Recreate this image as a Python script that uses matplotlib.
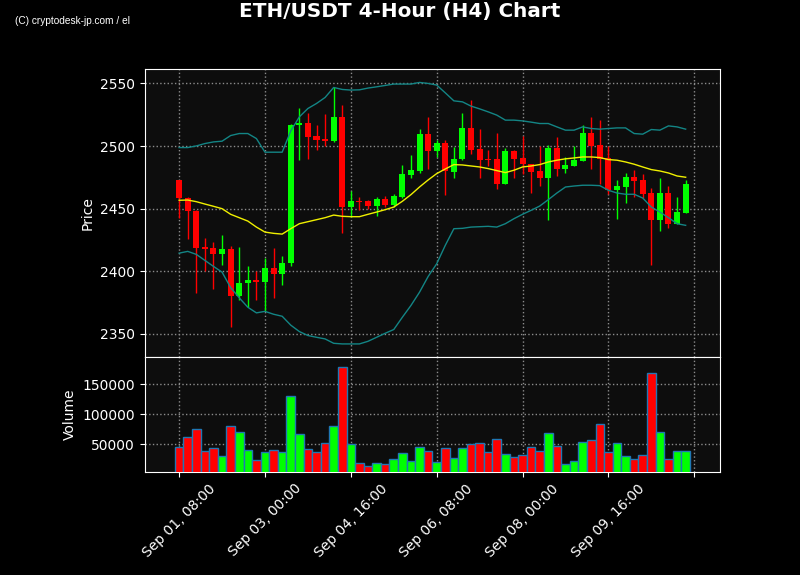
import matplotlib
matplotlib.use('Agg')
import matplotlib.pyplot as plt
from matplotlib.ticker import FuncFormatter
import pandas as pd

# 4-hour candles, ETH/USDT
dates = pd.date_range('2024-09-01 08:00', periods=60, freq='4h')

opens = [2472.7, 2458.5, 2448.1, 2419.0, 2418.3, 2413.7, 2417.5, 2380.6, 2390.5, 2393.0,
         2391.4, 2403.0, 2397.7, 2407.0, 2516.5, 2518.3, 2507.9, 2505.5, 2503.9, 2523.0,
         2451.3, 2455.9, 2455.9, 2451.9, 2457.5, 2452.7, 2459.3, 2476.7, 2479.9, 2509.5,
         2496.1, 2502.3, 2479.4, 2489.5, 2514.3, 2497.5, 2489.7, 2489.5, 2469.7, 2495.9,
         2490.3, 2486.0, 2479.9, 2474.5, 2498.3, 2481.5, 2483.9, 2488.1, 2510.3, 2500.6,
         2490.3, 2464.7, 2467.2, 2475.1, 2472.7, 2462.3, 2440.7, 2462.3, 2438.0, 2446.6]
highs = [2472.7, 2459.1, 2448.7, 2426.8, 2423.3, 2428.7, 2420.4, 2419.6, 2404.4, 2400.0,
         2410.8, 2418.8, 2412.4, 2517.5, 2530.0, 2526.0, 2517.2, 2525.5, 2546.8, 2532.4,
         2463.9, 2459.0, 2456.7, 2459.3, 2459.9, 2462.0, 2485.2, 2493.2, 2514.0, 2523.3,
         2504.7, 2504.7, 2499.4, 2526.0, 2536.4, 2514.0, 2497.2, 2510.8, 2498.8, 2497.2,
         2508.1, 2486.0, 2499.9, 2501.2, 2507.3, 2491.3, 2499.9, 2517.2, 2522.9, 2521.2,
         2499.9, 2472.7, 2478.8, 2480.7, 2477.7, 2466.8, 2474.8, 2468.4, 2459.6, 2472.7]
lows = [2442.8, 2426.0, 2382.8, 2399.9, 2385.7, 2405.2, 2355.3, 2376.7, 2371.3, 2377.2,
        2368.0, 2378.8, 2389.2, 2404.6, 2488.7, 2490.0, 2496.7, 2499.9, 2503.0, 2430.8,
        2443.3, 2448.7, 2450.0, 2444.4, 2451.3, 2451.3, 2458.8, 2474.8, 2478.8, 2482.0,
        2491.3, 2460.7, 2474.8, 2488.7, 2494.0, 2474.8, 2483.9, 2466.0, 2469.7, 2474.8,
        2478.0, 2462.8, 2468.4, 2441.2, 2476.4, 2478.5, 2483.9, 2488.1, 2482.0, 2470.0,
        2462.0, 2441.7, 2454.5, 2459.7, 2458.8, 2405.2, 2432.1, 2434.8, 2438.0, 2446.6]
closes = [2458.5, 2448.1, 2418.5, 2417.5, 2413.7, 2417.5, 2380.6, 2391.0, 2393.0, 2391.4,
          2403.0, 2397.7, 2407.0, 2516.7, 2518.3, 2507.3, 2504.7, 2503.9, 2523.0, 2451.3,
          2455.9, 2455.0, 2451.9, 2457.5, 2452.7, 2459.9, 2477.5, 2480.7, 2509.5, 2496.1,
          2502.3, 2479.9, 2490.0, 2514.3, 2496.7, 2488.7, 2488.7, 2469.7, 2495.9, 2489.5,
          2485.7, 2479.4, 2474.5, 2498.3, 2481.5, 2484.7, 2488.7, 2510.3, 2500.1, 2489.5,
          2464.7, 2467.9, 2475.1, 2471.9, 2461.5, 2440.7, 2462.3, 2438.0, 2447.1, 2469.5]
volumes = [45000, 62000, 75000, 38000, 43000, 30000, 80000, 70000, 40000, 23000,
           37000, 40000, 37000, 130000, 67000, 42000, 37000, 52000, 80000, 178000,
           50000, 18000, 13000, 18000, 17000, 25000, 35000, 22000, 45000, 38000,
           20000, 43000, 27000, 43000, 50000, 52000, 37000, 58000, 33000, 28000,
           32000, 45000, 38000, 68000, 47000, 17000, 22000, 53000, 57000, 83000,
           37000, 52000, 30000, 25000, 32000, 168000, 70000, 25000, 38000, 38000]

# Bollinger bands (20, 2) as shown on the chart
bb_upper = [2498.8, 2498.8, 2500.1, 2502.0, 2503.3, 2503.9, 2508.4, 2510.0, 2510.0, 2506.0,
            2495.1, 2495.1, 2495.1, 2512.0, 2523.3, 2530.0, 2534.0, 2538.8, 2546.8, 2545.2,
            2544.7, 2544.9, 2546.3, 2547.3, 2548.4, 2549.5, 2549.5, 2549.5, 2550.8, 2550.0,
            2548.7, 2542.5, 2536.1, 2535.3, 2531.9, 2529.7, 2527.3, 2524.7, 2520.7, 2520.7,
            2520.1, 2519.1, 2518.0, 2518.0, 2515.3, 2512.7, 2512.7, 2515.3, 2514.0, 2513.5,
            2514.0, 2514.5, 2514.5, 2510.0, 2509.5, 2513.2, 2512.7, 2516.1, 2515.3, 2513.5]
bb_mid = [2456.7, 2456.9, 2455.6, 2453.7, 2451.9, 2450.0, 2445.5, 2442.8, 2440.1, 2435.3,
          2431.3, 2430.3, 2429.7, 2434.0, 2438.0, 2439.6, 2441.2, 2442.8, 2444.9, 2443.9,
          2443.6, 2443.6, 2445.5, 2447.3, 2449.2, 2451.3, 2455.9, 2461.2, 2467.3, 2472.9,
          2478.0, 2481.7, 2485.2, 2484.9, 2484.1, 2483.3, 2482.0, 2480.4, 2478.8, 2480.7,
          2483.3, 2484.1, 2485.2, 2487.3, 2488.7, 2489.8, 2490.5, 2491.3, 2491.3, 2490.8,
          2489.2, 2488.7, 2487.3, 2485.5, 2483.3, 2481.2, 2480.1, 2478.5, 2476.1, 2475.1]
bb_lower = [2414.5, 2415.9, 2413.5, 2408.7, 2403.9, 2399.3, 2387.0, 2378.8, 2371.3, 2366.8,
            2368.0, 2365.7, 2364.1, 2357.0, 2351.9, 2348.7, 2347.3, 2346.0, 2342.5, 2342.0,
            2342.0, 2342.0, 2344.1, 2347.3, 2350.5, 2353.5, 2363.3, 2372.7, 2383.3, 2395.8,
            2406.0, 2420.7, 2434.0, 2434.3, 2435.3, 2435.6, 2435.9, 2435.3, 2438.0, 2442.0,
            2445.5, 2448.7, 2452.1, 2457.2, 2462.5, 2467.3, 2468.1, 2468.7, 2468.7, 2468.4,
            2464.7, 2462.5, 2461.5, 2461.5, 2458.5, 2451.3, 2447.3, 2442.8, 2438.0, 2436.7]

x = list(range(len(dates)))
colors = ['#00ff00' if c >= o else '#ff0000' for o, c in zip(opens, closes)]

fig = plt.figure(figsize=(8, 5.75), dpi=100, facecolor='black')
ax = fig.add_axes([0.181, 0.379, 0.719, 0.5005])
axv = fig.add_axes([0.181, 0.1797, 0.719, 0.1993], sharex=ax)

for a in (ax, axv):
    a.set_facecolor('#0d0d0d')
    for s in a.spines.values():
        s.set_color('white')
    a.tick_params(colors='white', labelsize=10)
    a.grid(True, color='#8c8c8c', linestyle=':', linewidth=1)
    a.set_axisbelow(True)

# candles
ax.vlines(x, lows, highs, colors=colors, linewidth=1, zorder=2)
bottoms = [min(o, c) for o, c in zip(opens, closes)]
heights = [max(abs(c - o), 0.4) for o, c in zip(opens, closes)]
ax.bar(x, heights, bottom=bottoms, width=0.7, color=colors, zorder=3)

# bollinger bands
ax.plot(x, bb_upper, color='#138585', linewidth=1, zorder=4)
ax.plot(x, bb_lower, color='#138585', linewidth=1, zorder=4)
ax.plot(x, bb_mid, color='#f0f000', linewidth=1, zorder=4)

ax.set_ylim(2331.5, 2561.3)
ax.set_ylabel('Price', color='white', fontsize=10)
ax.set_yticks([2350, 2400, 2450, 2500, 2550])
plt.setp(ax.get_xticklabels(), visible=False)
ax.tick_params(axis='x', length=0)

# volume
axv.bar(x, volumes, width=1.0, color=colors, edgecolor='#1f77b4', linewidth=1, zorder=3)
axv.set_ylim(4300, 195000)
axv.set_yticks([50000, 100000, 150000])
axv.set_ylabel('Volume', color='white', fontsize=10)

axv.set_xlim(-4, 63)
axv.set_xticks(range(0, 61, 10))
axv.xaxis.set_major_formatter(FuncFormatter(
    lambda v, p: dates[int(v)].strftime('%b %d, %H:%M') if 0 <= int(v) < len(dates) else ''))
plt.setp(axv.get_xticklabels(), rotation=45)

fig.text(0.5, 1 - 11 / 575, 'ETH/USDT 4-Hour (H4) Chart', color='white',
         fontsize=14.4, fontweight='bold', ha='center', va='center')
fig.text(15 / 800, 1 - 21 / 575, '(C) cryptodesk-jp.com / el', color='white',
         fontsize=7.3, family=['Liberation Sans Narrow', 'Liberation Sans', 'DejaVu Sans'],
         ha='left', va='center')

fig.savefig('out.png', dpi=100, facecolor='black')
plt.close(fig)
